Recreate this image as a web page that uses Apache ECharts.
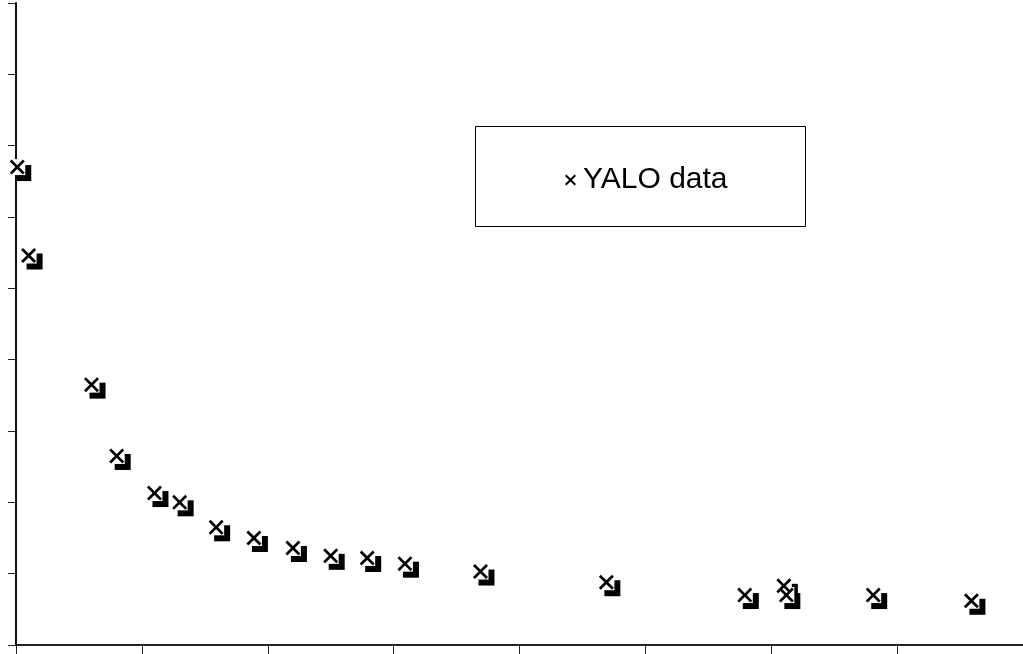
<!DOCTYPE html>
<html>
<head>
<meta charset="utf-8">
<script src="https://cdn.jsdelivr.net/npm/echarts@6/dist/echarts.min.js"></script>
<style>
  html, body { margin: 0; padding: 0; background: #fff; }
  #yalo_chart { width: 1023px; height: 654px; }
</style>
</head>
<body>
<div id="yalo_chart"></div>
<script>
// YALO data (axis units)
var timeValues = [0.01, 0.10, 0.60, 0.80, 1.10, 1.30, 1.59, 1.89, 2.20, 2.50, 2.79, 3.09, 3.69, 4.69, 5.79, 6.10, 6.12, 6.81, 7.59];
var fluxValues = [6.70, 5.46, 3.65, 2.65, 2.13, 2.00, 1.65, 1.50, 1.36, 1.25, 1.22, 1.14, 1.03, 0.88, 0.70, 0.83, 0.70, 0.70, 0.62];
var xTicks = [0, 1, 2, 3, 4, 5, 6, 7, 8];
var yTicks = [0, 1, 2, 3, 4, 5, 6, 7, 8, 9];
var seriesName = 'YALO data';

var crossPath = 'path://M0,1.27L1.27,0L5,3.73L8.73,0L10,1.27L6.27,5L10,8.73L8.73,10L5,6.27L1.27,10L0,8.73L3.73,5Z';

var points = timeValues.map(function (t, i) { return [t, fluxValues[i]]; });

var yalo_chart = echarts.init(document.getElementById('yalo_chart'));
function getYaloOption() {
    return {
        animation: false,
        backgroundColor: '#fff',
        grid: {
            left: 16,
            right: -1,
            top: 3,
            bottom: 9
        },
        graphic: [
            {
                type: 'rect',
                shape: { x: 475.5, y: 126.5, width: 330, height: 100 },
                style: { fill: '#fff', stroke: '#000', lineWidth: 1 },
                z: 1
            }
        ],
        legend: {
            data: [{ name: seriesName, icon: crossPath }],
            left: 560,
            top: 160,
            itemWidth: 11,
            itemHeight: 11,
            textStyle: {
                fontSize: 30,
                fontFamily: 'Liberation Sans, Arial, sans-serif',
                color: '#000',
                padding: [0, 0, 0, 2]
            },
            z: 5
        },
        xAxis: [
            {
                type: 'value',
                min: xTicks[0],
                max: xTicks[xTicks.length - 1],
                interval: 1,
                axisLine: { show: true, onZero: false, lineStyle: { color: '#222', width: 1.5 } },
                axisTick: { show: true, length: 9, lineStyle: { color: '#222', width: 1 } },
                axisLabel: { show: false },
                splitLine: { show: false }
            },
            {
                type: 'value',
                position: 'top',
                min: xTicks[0],
                max: xTicks[xTicks.length - 1],
                axisLine: { show: true, lineStyle: { color: '#111', width: 1.5 } },
                axisTick: { show: false },
                axisLabel: { show: false },
                splitLine: { show: false }
            }
        ],
        yAxis: {
            type: 'value',
            min: yTicks[0],
            max: yTicks[yTicks.length - 1],
            interval: 1,
            axisLine: { show: true, onZero: false, lineStyle: { color: '#111', width: 2 } },
            axisTick: { show: true, length: 8, lineStyle: { color: '#222', width: 1 } },
            axisLabel: { show: false },
            splitLine: { show: false }
        },
        series: [
            {
                name: 'shadow',
                type: 'scatter',
                data: points,
                symbol: 'rect',
                symbolSize: 16,
                symbolOffset: [6, 6],
                itemStyle: { color: '#000', opacity: 1 },
                silent: true,
                z: 2
            },
            {
                name: 'cover',
                type: 'scatter',
                data: points,
                symbol: 'rect',
                symbolSize: 16,
                itemStyle: { color: '#fff', opacity: 1 },
                silent: true,
                z: 3
            },
            {
                name: seriesName,
                type: 'scatter',
                data: points,
                symbol: crossPath,
                symbolSize: 15,
                itemStyle: { color: '#000', opacity: 1 },
                z: 4
            }
        ]
    };
}

yalo_chart.setOption(getYaloOption());
window.addEventListener('resize', function () {
    yalo_chart.resize();
});
</script>
</body>
</html>
